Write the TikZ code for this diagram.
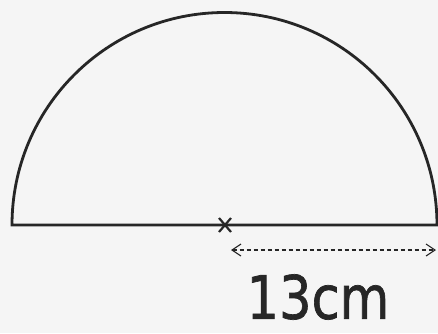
\documentclass[tikz,border=0pt]{standalone}
\usepackage{fontspec}
\setmainfont{DejaVu Sans}
\newfontfamily\labfont[BoldFont={DejaVu Sans},BoldFeatures={FakeBold=1.2}]{DejaVu Sans}
\usetikzlibrary{arrows.meta,calc}
\begin{document}
\begin{tikzpicture}[x=1pt,y=-1pt,
  outline/.style={line width=2.8pt,draw=black!85},
  crossmark/.style={line width=2.2pt,draw=black!85},
  dimline/.style={line width=1.1pt,draw=black!85,dash pattern=on 4pt off 3pt,{Straight Barb[length=9pt,width=12pt]}-{Straight Barb[length=9pt,width=12pt]}}]
\fill[white!96!black] (0,0) rectangle (438,333);
\useasboundingbox (0,0) rectangle (438,333);
\coordinate (L) at (12,225);
\coordinate (R) at (437,225);
\coordinate (O) at (225,225);
\draw[outline] (L) arc[start angle=180,end angle=360,radius=212.5] -- cycle;
\draw[crossmark] ($(O)+(-6,-7)$) -- ($(O)+(6,7)$) ($(O)+(6,-7)$) -- ($(O)+(-6,7)$);
\coordinate (A1) at (231,250);
\coordinate (A2) at (436,250);
\draw[dimline] (A1) -- (A2);
\node[xscale=0.85,text=black!85] (lab) at (318,297) {\labfont\bfseries\fontsize{60}{60}\selectfont 13cm};
\end{tikzpicture}
\end{document}
